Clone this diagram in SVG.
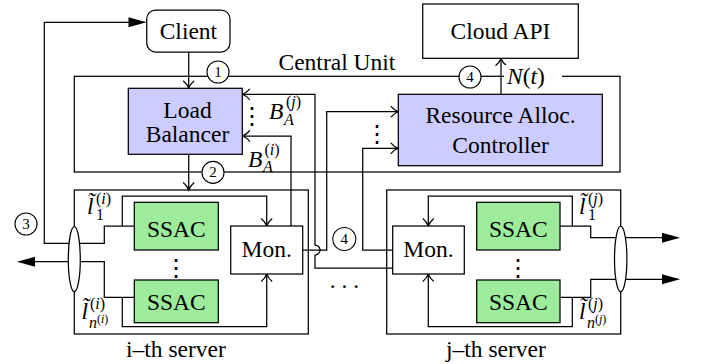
<svg xmlns="http://www.w3.org/2000/svg" width="702" height="364" viewBox="0 0 702 364" font-family="'Liberation Serif', 'DejaVu Serif', serif">
  <style>
    .t { font-size: 23.5px; fill: #000; }
    .c { text-anchor: middle; }
    .it { font-style: italic; }
    .sup { font-size: 16px; }
    .ssup { font-size: 12px; }
    .num { font-size: 15px; text-anchor: middle; }
    .frame { fill: none; stroke: #000; stroke-width: 1.25; }
    .box { stroke: #000; stroke-width: 1.25; }
    .white { fill: #fff; }
    .blue { fill: #ccccff; }
    .green { fill: #9cec9c; }
    .wire { fill: none; stroke: #000; stroke-width: 1.25; }
    .to { marker-end: url(#open); }
    .big { marker-end: url(#solid); }
    .badge { fill: #fff; stroke: #000; stroke-width: 1.1; }
  </style>
  <defs>
    <marker id="open" markerUnits="userSpaceOnUse" viewBox="-10 -8 12 16" refX="0" refY="0" markerWidth="12" markerHeight="16" orient="auto" overflow="visible">
      <path d="M -7.5 -5.5 C -5 -2.5 -2 -0.7 0 0 C -2 0.7 -5 2.5 -7.5 5.5" fill="none" stroke="#000" stroke-width="1.2"/>
    </marker>
    <marker id="solid" markerUnits="userSpaceOnUse" viewBox="-20 -8 22 16" refX="0" refY="0" markerWidth="22" markerHeight="16" orient="auto" overflow="visible">
      <path d="M -16 -5 L 2 0 L -16 5 Z" fill="#000"/>
    </marker>
  </defs>

  <rect width="702" height="364" fill="#fff"/>

  <!-- containers -->
  <g id="central-unit">
    <rect class="frame" x="74.3" y="76.3" width="545.7" height="95.7"/>
    <text class="t" x="278.5" y="70">Central Unit</text>
  </g>
  <g id="server-i">
    <rect class="frame" x="74.3" y="190" width="234" height="144"/>
    <text class="t" x="126" y="356.5">i–th server</text>
  </g>
  <g id="server-j">
    <rect class="frame" x="386.7" y="190" width="234" height="144"/>
    <text class="t" x="446" y="356.5">j–th server</text>
  </g>

  <!-- connectors -->
  <g id="connectors">
    <path class="wire to" d="M 188.7 52 V 88.3"/>
    <path class="wire to" d="M 188.7 154.3 V 190"/>
    <path class="wire to" d="M 291 226 V 136 H 242.3"/>
    <path class="wire to" d="M 392.7 268 H 315 V 255 A 5 5 0 0 0 315 245 V 94.3 H 242.3"/>
    <path class="wire to" d="M 302.7 250 H 326.7 V 111.7 H 398.3"/>
    <path class="wire to" d="M 392.7 250 H 362.7 V 148.3 H 398.3"/>
    <path class="wire to" d="M 501 94.3 V 58.3"/>
    <!-- server i -->
    <path class="wire big" d="M 134.3 226 H 104.3 V 243.3 H 44.3 V 22.3 H 144.5"/>
    <path class="wire big" d="M 134.3 297.3 H 104.3 V 261.7 H 19"/>
    <path class="wire to" d="M 122.3 226 V 196 H 266.7 V 226"/>
    <path class="wire to" d="M 122.3 297.3 V 326.7 H 266.7 V 274"/>
    <!-- server j -->
    <path class="wire big" d="M 560 226 H 590.7 V 237.7 H 678"/>
    <path class="wire big" d="M 560 297.3 H 590.7 V 279.3 H 678"/>
    <path class="wire to" d="M 572.3 226 V 196 H 428.3 V 226"/>
    <path class="wire to" d="M 572.3 297.3 V 326.7 H 428.3 V 274"/>
  </g>

  <!-- nodes -->
  <g id="client">
    <rect class="box white" x="146.7" y="10" width="83.3" height="42" rx="9"/>
    <text class="t c" x="188.4" y="39">Client</text>
  </g>
  <g id="cloud-api">
    <rect class="box white" x="422.7" y="4" width="155.6" height="54.3"/>
    <text class="t c" x="500.5" y="39">Cloud API</text>
  </g>
  <g id="load-balancer">
    <rect class="box blue" x="128.3" y="88.3" width="114" height="66"/>
    <text class="t c" x="187.5" y="118.3">Load</text>
    <text class="t c" x="187.5" y="141.7">Balancer</text>
  </g>
  <g id="resource-controller">
    <rect class="box blue" x="398.3" y="94.3" width="204" height="71.4"/>
    <text class="t c" x="500.5" y="123.3">Resource Alloc.</text>
    <text class="t c" x="500.5" y="153.3">Controller</text>
  </g>
  <g id="ssac-i-1">
    <rect class="box green" x="134.3" y="202.3" width="84" height="47.7"/>
    <text class="t c" x="176.3" y="237.3">SSAC</text>
  </g>
  <g id="ssac-i-n">
    <rect class="box green" x="134.3" y="280" width="84" height="42.7"/>
    <text class="t c" x="176.3" y="310">SSAC</text>
  </g>
  <g id="mon-i">
    <rect class="box white" x="230.7" y="226" width="72" height="48"/>
    <text class="t c" x="266.7" y="256.7">Mon.</text>
  </g>
  <g id="ssac-j-1">
    <rect class="box green" x="476.7" y="202.3" width="83.3" height="47.7"/>
    <text class="t c" x="518.3" y="237.3">SSAC</text>
  </g>
  <g id="ssac-j-n">
    <rect class="box green" x="476.7" y="280" width="83.3" height="42.7"/>
    <text class="t c" x="518.3" y="310">SSAC</text>
  </g>
  <g id="mon-j">
    <rect class="box white" x="392.7" y="226" width="71.6" height="48"/>
    <text class="t c" x="428.5" y="256.7">Mon.</text>
  </g>

  <!-- link bundles -->
  <g id="bundle-i"><ellipse class="box white" cx="74.3" cy="259.2" rx="6" ry="32.5"/></g>
  <g id="bundle-j"><ellipse class="box white" cx="620.7" cy="259" rx="6.2" ry="32.8"/></g>

  <!-- step badges -->
  <g id="step-1"><circle class="badge" cx="218" cy="72" r="11"/><text class="t num" x="218" y="77">1</text></g>
  <g id="step-2"><circle class="badge" cx="213" cy="172.4" r="11"/><text class="t num" x="213" y="177.4">2</text></g>
  <g id="step-3"><circle class="badge" cx="26" cy="224" r="11"/><text class="t num" x="26" y="229">3</text></g>
  <g id="step-4a"><circle class="badge" cx="470" cy="77" r="11"/><text class="t num" x="470" y="82">4</text></g>
  <g id="step-4b"><circle class="badge" cx="344.3" cy="239" r="11.5"/><text class="t num" x="344.3" y="244">4</text></g>

  <!-- signal labels -->
  <g id="label-nt">
    <rect x="504" y="65" width="58" height="24" fill="#fff"/>
    <text class="t" x="507" y="84" font-size="25"><tspan class="it">N</tspan>(<tspan class="it">t</tspan>)</text>
  </g>
  <g id="label-baj">
    <text class="t it" x="269" y="119">B</text>
    <text class="t sup" x="286" y="107">(<tspan class="it">j</tspan>)</text>
    <text class="t sup it" x="284" y="125">A</text>
  </g>
  <g id="label-bai">
    <text class="t it" x="248" y="166.5">B</text>
    <text class="t sup" x="264.5" y="155">(<tspan class="it">i</tspan>)</text>
    <text class="t sup it" x="263" y="172">A</text>
  </g>
  <g id="label-l1i">
    <text class="t it" x="87" y="214">l̃</text>
    <text class="t sup" x="96" y="204">(<tspan class="it">i</tspan>)</text>
    <text class="t sup" x="96" y="220">1</text>
  </g>
  <g id="label-lni">
    <text class="t it" x="81.5" y="319">l̃</text>
    <text class="t sup" x="90" y="309">(<tspan class="it">i</tspan>)</text>
    <text class="t sup it" x="89" y="328">n</text>
    <text class="t ssup" x="97" y="323">(<tspan class="it">i</tspan>)</text>
  </g>
  <g id="label-l1j">
    <text class="t it" x="579" y="214">l̃</text>
    <text class="t sup" x="588" y="204">(<tspan class="it">j</tspan>)</text>
    <text class="t sup" x="588" y="220">1</text>
  </g>
  <g id="label-lnj">
    <text class="t it" x="579" y="319">l̃</text>
    <text class="t sup" x="588" y="309">(<tspan class="it">j</tspan>)</text>
    <text class="t sup it" x="587" y="328">n</text>
    <text class="t ssup" x="595" y="323">(<tspan class="it">j</tspan>)</text>
  </g>

  <!-- ellipsis marks -->
  <g id="ellipses">
    <text class="t c" x="252.3" y="124">⋮</text>
    <text class="t c" x="376.7" y="142">⋮</text>
    <text class="t c" x="176.3" y="276">⋮</text>
    <text class="t c" x="518.3" y="276">⋮</text>
    <text class="t c" x="344.5" y="288">. . .</text>
  </g>
</svg>
